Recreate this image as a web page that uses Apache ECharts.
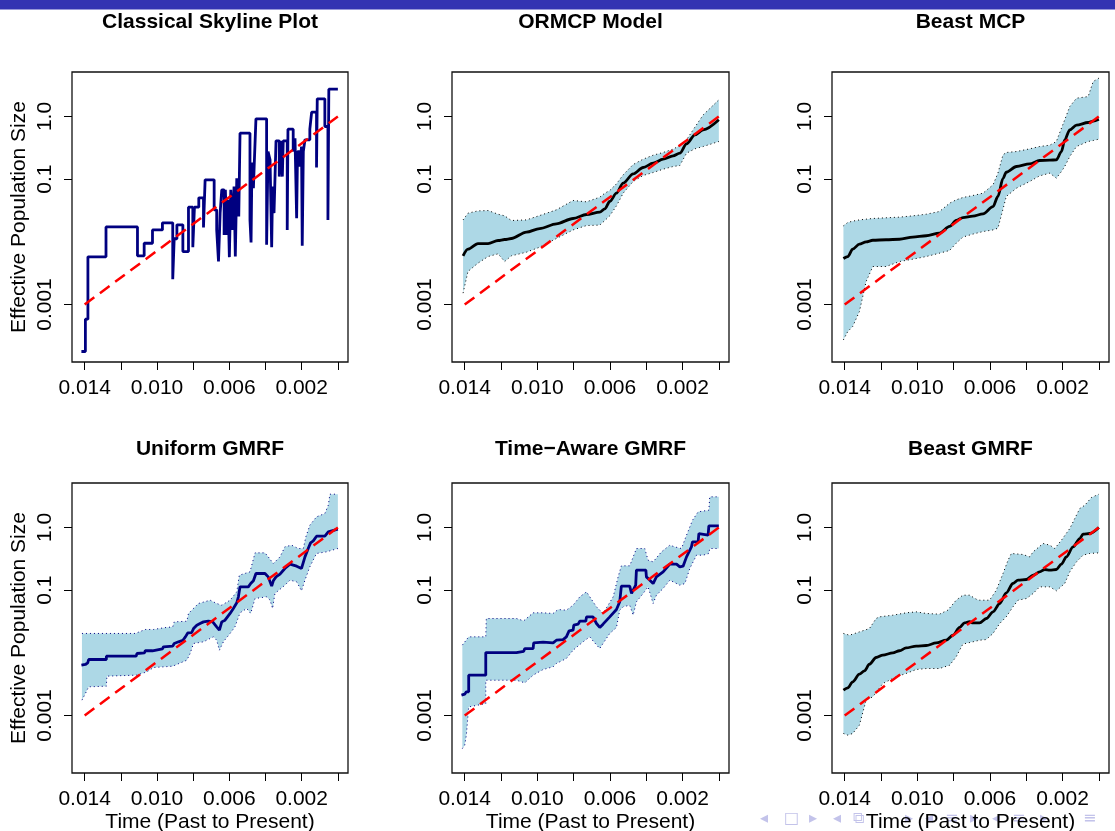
<!DOCTYPE html>
<html>
<head>
<meta charset="utf-8">
<title>Effective population size estimates</title>
<script src="https://cdn.jsdelivr.net/npm/echarts@6.0.0/dist/echarts.min.js"></script>
<style>
  html, body { margin: 0; padding: 0; background: #fff; }
  #chart { width: 1115px; height: 831px; }
</style>
</head>
<body>
<div id="chart"></div>
<script>
// ---- data: [time, Ne] ----
var trueLine = [[0.014, 0.001], [0, 1.0]];

var skyline = [[0.01418,0.000178],[0.01396,0.000583],[0.01382,0.00576],[0.01282,0.0173],[0.01108,0.00598],[0.01071,0.0095],
  [0.01025,0.0155],[0.00970,0.0201],[0.00913,0.00254],[0.00905,0.0112],[0.00890,0.0187],[0.00857,0.0070],[0.00826,0.0357],
  [0.00802,0.0082],[0.00793,0.0357],[0.00769,0.0504],[0.00743,0.0169],[0.00734,0.0976],[0.00684,0.0324],[0.00670,0.0155],
  [0.00660,0.00485],[0.00651,0.0287],[0.00642,0.0676],[0.00629,0.0129],[0.00622,0.0676],[0.00614,0.0129],[0.00607,0.0468],
  [0.00600,0.0057],[0.00592,0.0676],[0.00581,0.0155],[0.00574,0.0764],[0.00567,0.00583],[0.00559,0.1038],[0.00548,0.0254],
  [0.00541,0.542],[0.00486,0.0224],[0.00480,0.00976],[0.00475,0.1845],[0.00467,0.0718],[0.00462,0.1845],[0.00453,0.918],
  [0.00394,0.00896],[0.00386,0.276],[0.00375,0.204],[0.00366,0.0082],[0.00361,0.0764],[0.00353,0.0287],[0.00342,0.409],
  [0.00324,0.110],[0.00315,0.409],[0.00307,0.110],[0.00302,0.409],[0.00280,0.0155],[0.00276,0.628],[0.00247,0.276],
  [0.00237,0.451],[0.00228,0.0239],[0.00223,0.276],[0.00210,0.159],[0.00201,0.332],[0.00197,0.00863],[0.00191,0.276],
  [0.00182,0.425],[0.00155,0.628],[0.00145,1.173],[0.00118,0.153],[0.00114,1.914],[0.00072,0.692],[0.00055,0.0224],
  [0.00050,2.73],[0.0,2.73]];

// ORMCP model
var ormT    = [0.01409,0.01382,0.01327,0.01271,0.01216,0.01180,0.01143,0.01060,0.00987,0.00895,0.00803,0.00729,0.00656,0.00628,
  0.00601,0.00564,0.00527,0.00472,0.00417,0.00362,0.00307,0.00252,0.00215,0.00178,0.00132,0.00086,0.0];
var ormMean = [0.00598,0.00764,0.0094,0.0094,0.0105,0.0109,0.0113,0.0143,0.0163,0.0194,0.0236,0.0273,0.0297,0.0336,
  0.0440,0.0598,0.0864,0.1216,0.1535,0.180,0.2085,0.2357,0.260,0.366,0.509,0.612,0.885];
var ormHi   = [0.0224,0.0287,0.0312,0.0316,0.0276,0.0260,0.0219,0.0224,0.0263,0.0324,0.0457,0.0435,0.0516,0.0598,
  0.0659,0.0843,0.1173,0.1714,0.2085,0.2415,0.2666,0.3013,0.3446,0.4246,0.676,1.063,1.845];
var ormLo   = [0.00152,0.00337,0.00457,0.00583,0.00644,0.00485,0.00598,0.00684,0.00822,0.0113,0.0155,0.0182,0.0185,0.0219,
  0.0260,0.0375,0.0598,0.0918,0.1145,0.1277,0.1444,0.1592,0.1652,0.260,0.305,0.332,0.399];

// Beast MCP
var bmT    = [0.01407,0.01383,0.01356,0.01319,0.01282,0.01245,0.01172,0.01098,0.01025,0.00951,0.00878,0.00822,0.00786,0.00749,
  0.00694,0.00638,0.00583,0.00556,0.00528,0.00510,0.00454,0.00381,0.00326,0.00270,0.00234,0.00206,0.00188,0.00160,0.00123,
  0.00059,0.00031,0.0];
var bmMean = [0.00542,0.00583,0.00764,0.0092,0.0100,0.0106,0.0108,0.0110,0.0119,0.0125,0.0138,0.0176,0.0219,0.0244,
  0.0257,0.0280,0.0366,0.0529,0.1025,0.1294,0.1592,0.1758,0.1986,0.201,0.2035,0.276,0.425,0.612,0.727,0.802,0.843,0.906];
var bmHi   = [0.0180,0.0204,0.0214,0.0224,0.0230,0.0236,0.0242,0.0248,0.0260,0.0276,0.0305,0.0414,0.0468,0.0510,
  0.0549,0.0598,0.0812,0.1247,0.2445,0.2666,0.276,0.305,0.332,0.349,0.399,0.652,0.885,1.445,1.96,2.08,3.62,4.09];
var bmLo   = [0.000273,0.000371,0.000446,0.000773,0.00233,0.00404,0.00404,0.00485,0.00529,0.00583,0.00659,0.00728,0.0095,0.0119,
  0.0133,0.0146,0.0155,0.0165,0.0332,0.0529,0.0718,0.0918,0.113,0.1247,0.1038,0.1325,0.1592,0.230,0.332,0.399,0.414,0.435];

// Uniform GMRF
var ugMean = [[0.01418,0.00635],[0.01396,0.00652],[0.01383,0.00692],[0.01378,0.00783],[0.01280,0.00783],[0.01280,0.00885],
  [0.01115,0.00885],[0.01111,0.00976],[0.01069,0.0100],[0.01065,0.0108],[0.01025,0.0108],[0.01023,0.0116],[0.00970,0.0116],
  [0.00964,0.0125],[0.00913,0.0128],[0.00905,0.0141],[0.00881,0.0150],[0.00857,0.0159],[0.00843,0.0180],[0.00830,0.0208],
  [0.00808,0.0211],[0.00798,0.0244],[0.00780,0.0276],[0.00762,0.0294],[0.00743,0.0312],[0.00716,0.0320],[0.00692,0.0312],
  [0.00670,0.0260],[0.00655,0.0230],[0.00642,0.0312],[0.00624,0.0332],[0.00596,0.0425],[0.00578,0.0510],[0.00559,0.0628],
  [0.00550,0.0783],[0.00541,0.113],[0.00495,0.113],[0.00482,0.1277],[0.00467,0.141],[0.00453,0.1845],[0.00403,0.1845],
  [0.00385,0.163],[0.00366,0.116],[0.00357,0.141],[0.00342,0.163],[0.00320,0.180],[0.00293,0.222],[0.00265,0.260],
  [0.00228,0.2415],[0.00201,0.222],[0.00182,0.340],[0.00164,0.462],[0.00151,0.569],[0.00136,0.612],[0.00118,0.727],
  [0.00072,0.727],[0.00053,0.853],[0.00044,0.906],[0.0,0.94]];
var ugHi = [[0.01415,0.0204],[0.01277,0.0204],[0.01120,0.0204],[0.01065,0.0236],[0.01019,0.0236],[0.00964,0.0251],
  [0.00913,0.0260],[0.00905,0.0312],[0.00835,0.0320],[0.00826,0.0425],[0.00771,0.0613],[0.00706,0.0692],[0.00670,0.0613],
  [0.00642,0.0576],[0.00596,0.0692],[0.00559,0.0940],[0.00545,0.1735],[0.00486,0.196],[0.00458,0.394],[0.00403,0.394],
  [0.00385,0.340],[0.00357,0.2666],[0.00320,0.340],[0.00293,0.491],[0.00256,0.523],[0.00219,0.462],[0.00191,0.462],
  [0.00177,0.710],[0.00155,1.089],[0.00118,1.479],[0.00072,1.673],[0.00053,2.27],[0.00044,3.40],[0.0,3.40]];
var ugLo = [[0.01415,0.00176],[0.01396,0.00224],[0.01378,0.00287],[0.01280,0.00294],[0.01277,0.00425],[0.01111,0.00441],
  [0.01056,0.00498],[0.01019,0.00583],[0.00964,0.00598],[0.00913,0.00613],[0.00835,0.00764],[0.00817,0.00976],[0.00798,0.0141],
  [0.00743,0.0150],[0.00688,0.0180],[0.00670,0.0159],[0.00655,0.0110],[0.00633,0.0150],[0.00596,0.0204],[0.00569,0.0260],
  [0.00541,0.0435],[0.00504,0.0510],[0.00482,0.0425],[0.00458,0.0736],[0.00394,0.0783],[0.00375,0.0692],[0.00361,0.0510],
  [0.00348,0.0885],[0.00293,0.120],[0.00265,0.1444],[0.00228,0.136],[0.00201,0.0976],[0.00182,0.1444],[0.00155,0.2357],
  [0.00118,0.385],[0.00063,0.409],[0.0,0.462]];

// Time-Aware GMRF
var taMean = [[0.01418,0.00211],[0.01400,0.00219],[0.01391,0.00239],[0.01378,0.00239],[0.01378,0.00441],[0.01284,0.00441],
  [0.01284,0.0101],[0.01115,0.0101],[0.01106,0.0106],[0.01075,0.0106],[0.01069,0.0117],[0.01023,0.0117],[0.01020,0.0144],
  [0.00968,0.0148],[0.00913,0.0144],[0.00895,0.0159],[0.00858,0.0163],[0.00840,0.0180],[0.00825,0.0224],[0.00803,0.0230],
  [0.00799,0.0276],[0.00775,0.0287],[0.00766,0.0320],[0.00733,0.0320],[0.00729,0.0375],[0.00693,0.0375],[0.00674,0.0294],
  [0.00656,0.0254],[0.00638,0.0287],[0.00601,0.0375],[0.00564,0.0491],[0.00546,0.0652],[0.00537,0.116],[0.00491,0.116],
  [0.00481,0.0885],[0.00472,0.100],[0.00458,0.120],[0.00454,0.2085],[0.00402,0.2085],[0.00399,0.163],[0.00380,0.1444],
  [0.00362,0.1277],[0.00344,0.163],[0.00307,0.196],[0.00270,0.260],[0.00233,0.260],[0.00215,0.2357],[0.00197,0.2415],
  [0.00178,0.340],[0.00151,0.491],[0.00145,0.590],[0.00114,0.590],[0.00110,0.802],[0.00059,0.755],[0.00055,1.063],[0.0,1.063]];
var taHi = [[0.01413,0.0133],[0.01378,0.0180],[0.01284,0.0180],[0.01281,0.0353],[0.01115,0.0353],[0.01075,0.0324],
  [0.01023,0.0435],[0.00968,0.0435],[0.00913,0.0425],[0.00886,0.0491],[0.00840,0.0480],[0.00803,0.0576],[0.00766,0.0783],
  [0.00729,0.094],[0.00711,0.0783],[0.00674,0.0542],[0.00638,0.0425],[0.00582,0.0783],[0.00555,0.163],[0.00537,0.2445],
  [0.00491,0.2445],[0.00454,0.462],[0.00408,0.462],[0.00390,0.3013],[0.00362,0.283],[0.00316,0.409],[0.00270,0.523],
  [0.00243,0.491],[0.00206,0.462],[0.00178,0.755],[0.00145,1.309],[0.00114,1.778],[0.00055,1.891],[0.00050,3.087],[0.0,3.087]];
var taLo = [[0.01413,0.000297],[0.01400,0.000336],[0.01391,0.000486],[0.01378,0.00137],[0.01284,0.00155],[0.01284,0.00366],
  [0.01115,0.00366],[0.01069,0.00332],[0.01023,0.00441],[0.00968,0.00542],[0.00913,0.00598],[0.00895,0.00676],[0.00840,0.00812],
  [0.00803,0.0110],[0.00748,0.0150],[0.00711,0.0180],[0.00693,0.0155],[0.00656,0.0117],[0.00638,0.0141],[0.00601,0.0204],
  [0.00564,0.0254],[0.00546,0.0480],[0.00527,0.0542],[0.00491,0.0576],[0.00472,0.0399],[0.00454,0.0652],[0.00417,0.0885],
  [0.00390,0.113],[0.00362,0.0613],[0.00344,0.0832],[0.00307,0.1063],[0.00270,0.1444],[0.00215,0.120],[0.00187,0.1277],
  [0.00160,0.222],[0.00123,0.362],[0.00086,0.362],[0.00055,0.385],[0.00050,0.462],[0.0,0.462]];

// Beast GMRF
var bgMean = [[0.01407,0.00254],[0.01383,0.00276],[0.01356,0.00345],[0.01319,0.00457],[0.01291,0.00516],[0.01264,0.00659],
  [0.01227,0.00843],[0.01190,0.00918],[0.01135,0.0100],[0.01098,0.0108],[0.01062,0.0120],[0.01006,0.0128],[0.00951,0.0131],
  [0.00896,0.0144],[0.00841,0.0159],[0.00804,0.0191],[0.00767,0.0254],[0.00740,0.0301],[0.00712,0.0316],[0.00694,0.0301],
  [0.00657,0.0301],[0.00620,0.0353],[0.00583,0.0451],[0.00546,0.0613],[0.00510,0.0906],[0.00473,0.1277],[0.00445,0.1444],
  [0.00399,0.148],[0.00362,0.1735],[0.00326,0.196],[0.00298,0.2138],[0.00270,0.2085],[0.00234,0.2138],[0.00206,0.260],
  [0.00179,0.340],[0.00142,0.491],[0.00105,0.667],[0.00087,0.783],[0.00050,0.802],[0.0,1.0]];
var bgHi = [[0.01407,0.0204],[0.01374,0.0191],[0.01319,0.0216],[0.01264,0.0244],[0.01227,0.0353],[0.01209,0.0375],
  [0.01135,0.0399],[0.01062,0.0435],[0.01006,0.0451],[0.00951,0.0425],[0.00878,0.0414],[0.00832,0.0480],[0.00786,0.0692],
  [0.00749,0.0832],[0.00712,0.0832],[0.00675,0.0718],[0.00657,0.0692],[0.00602,0.0692],[0.00565,0.100],[0.00528,0.1845],
  [0.00500,0.3013],[0.00482,0.385],[0.00418,0.371],[0.00381,0.340],[0.00362,0.409],[0.00307,0.556],[0.00270,0.523],
  [0.00243,0.462],[0.00206,0.628],[0.00160,0.964],[0.00105,2.01],[0.00077,2.27],[0.00041,3.01],[0.0,3.40]];
var bgLo = [[0.01407,0.000517],[0.01383,0.000486],[0.01356,0.000517],[0.01319,0.000702],[0.01282,0.00176],[0.01245,0.00199],
  [0.01190,0.00324],[0.01117,0.00414],[0.01062,0.00468],[0.01006,0.00542],[0.00951,0.00562],[0.00878,0.00562],[0.00822,0.00635],
  [0.00786,0.00863],[0.00749,0.0138],[0.00694,0.0150],[0.00657,0.0159],[0.00620,0.0163],[0.00583,0.0204],[0.00546,0.0294],
  [0.00510,0.0375],[0.00473,0.0542],[0.00445,0.0692],[0.00399,0.0736],[0.00362,0.0885],[0.00326,0.113],[0.00270,0.113],
  [0.00234,0.0976],[0.00188,0.1277],[0.00160,0.196],[0.00123,0.283],[0.00087,0.362],[0.00050,0.385],[0.0,0.394]];

// axis ticks
var xTickValues = [0, 0.002, 0.004, 0.006, 0.008, 0.010, 0.012, 0.014];
var xLabelValues = [0.014, 0.010, 0.006, 0.002];
var yTickValues = [0.001, 0.1, 1];
var yTickLabels = ['0.001', '0.1', '1.0'];
var yRange = [1.21e-4, 5.13];

function zip(t, v) {
    return t.map(function (x, i) { return [x, v[i]]; });
}
// the y axis is a plain value axis in log10 units
function lg(v) { return Math.log(v) / Math.LN10; }
function toLog(d) {
    return d.map(function (p) { return [p[0], lg(p[1])]; });
}

var panels = [
    {title: 'Classical Skyline Plot', mean: skyline, meanColor: '#000080', step: 'end'},
    {title: 'ORMCP Model', mean: zip(ormT, ormMean), hi: zip(ormT, ormHi), lo: zip(ormT, ormLo),
        meanColor: '#000', dotColor: '#000', smooth: true},
    {title: 'Beast MCP', mean: zip(bmT, bmMean), hi: zip(bmT, bmHi), lo: zip(bmT, bmLo),
        meanColor: '#000', dotColor: '#000', smooth: true},
    {title: 'Uniform GMRF', mean: ugMean, hi: ugHi, lo: ugLo, meanColor: '#000080', dotColor: '#000080'},
    {title: 'Time\u2212Aware GMRF', mean: taMean, hi: taHi, lo: taLo, meanColor: '#000080', dotColor: '#000080'},
    {title: 'Beast GMRF', mean: bgMean, hi: bgHi, lo: bgLo, meanColor: '#000', dotColor: '#000', smooth: true}
];

// panel boxes [left, top, width, height]
var boxes = [[72, 72, 276, 290], [452, 72, 277, 290], [832, 72, 277, 290],
             [72, 483, 276, 290], [452, 483, 277, 290], [832, 483, 277, 290]];

var FONT = '"Liberation Sans", Arial, Helvetica, sans-serif';

var dom = document.getElementById('chart');
var myChart = echarts.init(dom, null, {renderer: 'canvas'});

var grids = [], xAxes = [], yAxes = [], titles = [], series = [];
var yTickLog = yTickValues.map(lg);

boxes.forEach(function (b, i) {
    grids.push({left: b[0], top: b[1], width: b[2], height: b[3], show: true,
        borderColor: '#111', borderWidth: 1.3, backgroundColor: 'transparent',
        containLabel: false, outerBoundsMode: 'none'});

    titles.push({text: panels[i].title, left: b[0] + b[2] / 2, top: i < 3 ? 12 : 439,
        textAlign: 'center', padding: 0,
        textStyle: {fontFamily: FONT, fontSize: 21, fontWeight: 'bold', color: '#000'}});

    xAxes.push({
        gridIndex: i, type: 'value', inverse: true, min: -0.00056, max: 0.0147,
        axisLine: {show: false, onZero: false}, splitLine: {show: false},
        axisTick: {show: true, length: 8, customValues: xTickValues, lineStyle: {color: '#000', width: 1}},
        axisLabel: {customValues: xLabelValues, margin: 16, fontFamily: FONT, fontSize: 21, color: '#000',
            formatter: function (v) { return v.toFixed(3); }},
        name: i >= 3 ? 'Time (Past to Present)' : '', nameLocation: 'middle', nameGap: 39,
        nameTextStyle: {fontFamily: FONT, fontSize: 21, color: '#000'}
    });

    yAxes.push({
        gridIndex: i, type: 'value', min: lg(yRange[0]), max: lg(yRange[1]),
        axisLine: {show: false, onZero: false}, splitLine: {show: false},
        axisTick: {show: true, length: 8, customValues: yTickLog, lineStyle: {color: '#000', width: 1}},
        axisLabel: {customValues: yTickLog, rotate: 90, margin: 16, fontFamily: FONT, fontSize: 21, color: '#000',
            formatter: function (v) {
                for (var j = 0; j < yTickLog.length; j++) {
                    if (Math.abs(yTickLog[j] - v) < 1e-6) return yTickLabels[j];
                }
                return '';
            }},
        name: i % 3 === 0 ? 'Effective Population Size' : '', nameLocation: 'middle', nameGap: 42, nameRotate: 90,
        nameTextStyle: {fontFamily: FONT, fontSize: 21, color: '#000'}
    });

    var p = panels[i];
    if (p.hi) {
        var poly = toLog(p.hi.concat(p.lo.slice().reverse()));
        series.push({
            type: 'custom', xAxisIndex: i, yAxisIndex: i, silent: true, data: poly,
            renderItem: (function (pts) {
                return function (params, api) {
                    if (params.dataIndex !== 0) return null;
                    return {type: 'polygon', shape: {points: pts.map(function (d) { return api.coord(d); })},
                        style: {fill: '#add8e6'}};
                };
            })(poly)
        });
        [p.hi, p.lo].forEach(function (d) {
            series.push({type: 'line', xAxisIndex: i, yAxisIndex: i, data: toLog(d), showSymbol: false, silent: true,
                lineStyle: {color: p.dotColor, width: 1, type: [1, 3]}});
        });
    }
    series.push({type: 'line', xAxisIndex: i, yAxisIndex: i, data: toLog(p.mean), showSymbol: false, silent: true,
        step: p.step || false, smooth: p.smooth ? 0.3 : false, smoothMonotone: 'x',
        lineStyle: {color: p.meanColor, width: 2.8}});
    series.push({type: 'line', xAxisIndex: i, yAxisIndex: i, data: toLog(trueLine), showSymbol: false, silent: true,
        lineStyle: {color: '#ff0000', width: 2.5, type: [12, 7]}});
});

var navColor = '#c3c3ea';
var navGlyphs = [['\u25C2', 760], ['\u25A1', 784], ['\u25B8', 809], ['\u25C2', 833], ['\u29C9', 853],
    ['\u25B8', 905], ['\u25C2', 925], ['\u2261', 945], ['\u25B8', 970], ['\u25C2', 992], ['\u2261', 1012],
    ['\u25B8', 1040], ['\u2261', 1083]];

option = {
    animation: false,
    backgroundColor: '#fff',
    title: titles,
    grid: grids,
    xAxis: xAxes,
    yAxis: yAxes,
    series: series,
    graphic: [{type: 'rect', left: 0, top: 0, z: 100, shape: {width: 1115, height: 9.5}, style: {fill: '#3333b2'}}]
        .concat(navGlyphs.map(function (g) {
            return {type: 'text', left: g[1], top: 811, z: -1,
                style: {text: g[0], fill: navColor, font: '16px "DejaVu Sans", sans-serif'}};
        }))
};

if (option && typeof option === 'object') {
    myChart.setOption(option, true);
}
</script>
</body>
</html>
